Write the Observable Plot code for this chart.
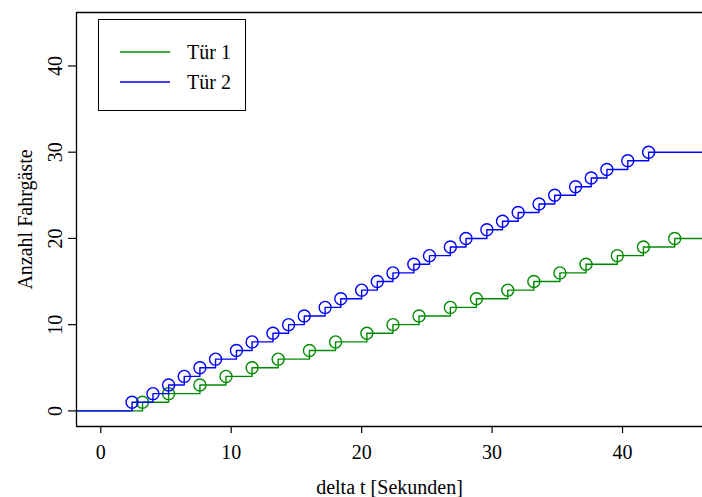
<!DOCTYPE html>
<html>
<head>
<meta charset="utf-8">
<script src="https://cdn.jsdelivr.net/npm/d3@7"></script>
<script src="https://cdn.jsdelivr.net/npm/@observablehq/plot@0.6"></script>
<style>
  body { margin: 0; background: #fff; }
  #chart { width: 702px; height: 497px; }
</style>
</head>
<body>
<div id="chart"></div>
<script>
// Boarding times (seconds) at which each passenger passed a door
const door1Times = [3.2, 5.2, 7.6, 9.6, 11.6, 13.6, 16.0, 18.0, 20.4, 22.4,
                    24.4, 26.8, 28.8, 31.2, 33.2, 35.2, 37.2, 39.6, 41.6, 44.0];
const door2Times = [2.4, 4.0, 5.2, 6.4, 7.6, 8.8, 10.4, 11.6, 13.2, 14.4,
                    15.6, 17.2, 18.4, 20.0, 21.2, 22.4, 24.0, 25.2, 26.8, 28.0,
                    29.6, 30.8, 32.0, 33.6, 34.8, 36.4, 37.6, 38.8, 40.4, 42.0];
const seriesNames = ["Tür 1", "Tür 2"];
const seriesColors = ["#008B00", "#0000FF"];
const xTicks = [0, 10, 20, 30, 40];
const yTicks = [0, 10, 20, 30, 40];
const xDomain = [-1.86, 46.13];
const yDomain = [-1.81, 46.2];

const font = "'Liberation Serif', 'Times New Roman', serif";
const fontSize = 20;

// cumulative passenger count after each boarding
function points(times) {
  return times.map((t, i) => ({t, n: i + 1}));
}
// step function running from the left edge to the right edge of the panel
function steps(times) {
  return [{t: xDomain[0], n: 0}, ...points(times), {t: xDomain[1], n: times.length}];
}

const seriesTimes = [door1Times, door2Times];
const seriesMarks = seriesTimes.flatMap((times, k) => [
  Plot.line(steps(times), {x: "t", y: "n", curve: "step-after",
    stroke: seriesColors[k], strokeWidth: 1.4}),
  Plot.dot(points(times), {x: "t", y: "n", r: 6, fill: "none",
    stroke: seriesColors[k], strokeWidth: 1.4})
]);

const chart = Plot.plot({
  width: 702,
  height: 497,
  marginLeft: 76,
  marginRight: 0,
  marginTop: 12,
  marginBottom: 71,
  style: {fontFamily: font, fontSize: fontSize + "px", background: "#fff", color: "#000"},
  x: {domain: xDomain},
  y: {domain: yDomain},
  marks: [
    ...seriesMarks,
    Plot.ruleY(yDomain, {stroke: "#000", strokeWidth: 1.3}),
    Plot.ruleX([xDomain[0]], {stroke: "#000", strokeWidth: 1.3}),
    Plot.axisX({ticks: xTicks, tickSize: 7, tickPadding: 11, label: null,
      fontSize, strokeWidth: 1.2}),
    Plot.axisY({ticks: yTicks, tickSize: 8, label: null, tickFormat: () => "",
      strokeWidth: 1.2}),
    Plot.text(yTicks, {y: d => d, text: d => String(d), frameAnchor: "left",
      dx: -21, rotate: -90, fontSize, textAnchor: "middle", lineAnchor: "middle"}),
    Plot.text(["delta t [Sekunden]"], {frameAnchor: "bottom", dy: 61,
      fontSize, textAnchor: "middle", lineAnchor: "middle"}),
    Plot.text(["Anzahl Fahrgäste"], {frameAnchor: "left", dx: -51, rotate: -90,
      fontSize, textAnchor: "middle", lineAnchor: "middle"})
  ]
});

// legend box in the top-left corner of the panel
const svg = d3.select(chart);
const legend = svg.append("g")
  .attr("font-family", font).attr("font-size", fontSize).attr("text-anchor", "start");
legend.append("rect")
  .attr("x", 98.5).attr("y", 19.5).attr("width", 147).attr("height", 91)
  .attr("fill", "#fff").attr("stroke", "#000").attr("stroke-width", 1);
seriesNames.forEach((name, k) => {
  const y = 52 + k * 30;
  legend.append("line")
    .attr("x1", 120).attr("x2", 170).attr("y1", y).attr("y2", y)
    .attr("stroke", seriesColors[k]).attr("stroke-width", 1.4);
  legend.append("text")
    .attr("x", 187).attr("y", y).attr("dy", "0.35em")
    .attr("fill", "#000").text(name);
});

document.getElementById("chart").appendChild(chart);
</script>
</body>
</html>
